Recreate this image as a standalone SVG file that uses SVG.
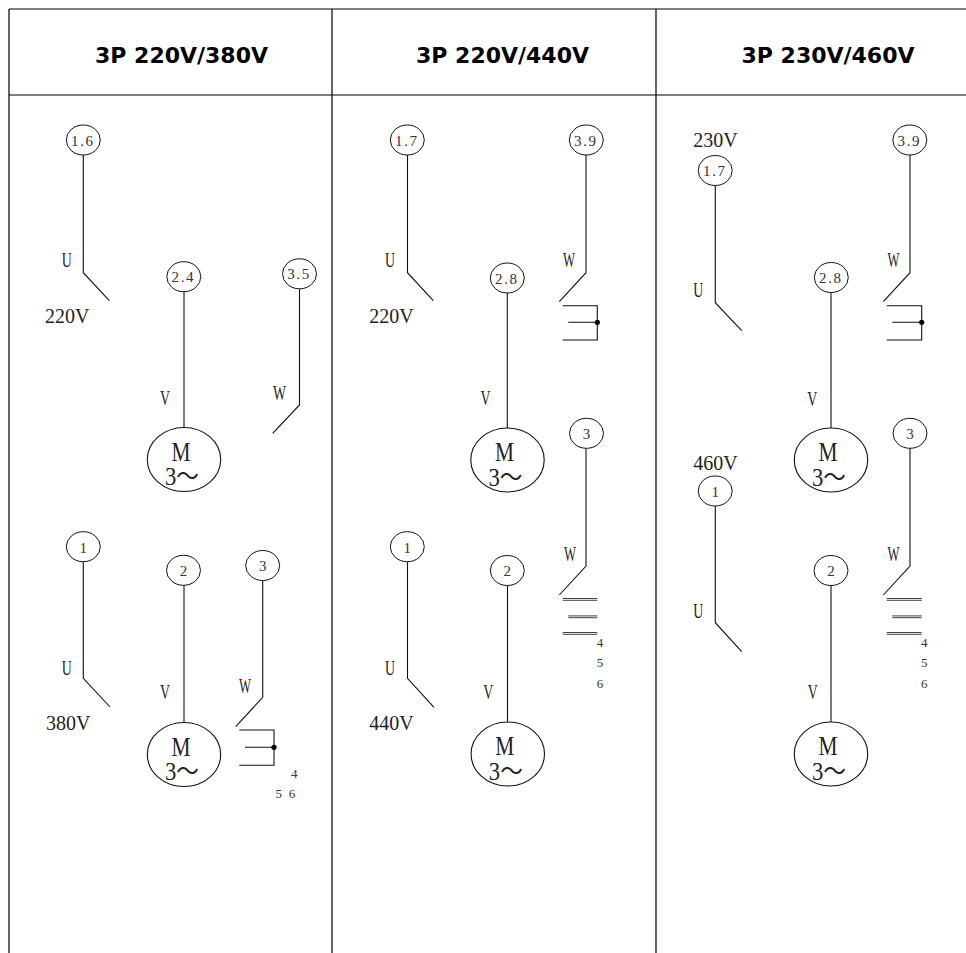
<svg xmlns="http://www.w3.org/2000/svg" width="966" height="953" viewBox="0 0 966 953">
<style>
.tbl{stroke:#000;stroke-width:1.2;fill:none}
.hdr{font-family:"DejaVu Sans",sans-serif;font-weight:bold;font-size:22px;fill:#000;text-anchor:middle}
.term{fill:#fff;stroke:#111;stroke-width:1}
.tl{font-family:"Liberation Serif",serif;font-size:15px;fill:#333;text-anchor:middle}
.w{stroke:#111;stroke-width:1.1;fill:none}
.lbl{font-family:"Liberation Serif",serif;font-size:21px;fill:#222}
.volt{font-family:"Liberation Serif",serif;font-size:20px;fill:#222}
.num{font-family:"Liberation Serif",serif;font-size:13px;fill:#333;text-anchor:middle}
.mot{fill:#fff;stroke:#111;stroke-width:1.1}
.mM{font-family:"Liberation Serif",serif;font-size:28px;fill:#222;text-anchor:middle}
.m3{font-family:"Liberation Serif","Noto Sans CJK SC",serif;font-size:25px;fill:#222}
.dbl{stroke:#444;stroke-width:1;fill:none}
</style>
<rect width="966" height="953" fill="#fff"/>
<g id="table">
<path class="tbl" d="M9,9H966M9,95H966M9,9V953M332,9V953M656,9V953"/>
<text class="hdr" x="181.5" y="63">3P 220V/380V</text>
<text class="hdr" x="502.5" y="63">3P 220V/440V</text>
<text class="hdr" x="828" y="63">3P 230V/460V</text>
</g>
<g id="connectors">
<path class="w" d="M83.3,155V272.7L109.3,300.7"/>
<path class="w" d="M184,291.7V427.5"/>
<path class="w" d="M299.5,288.8V405L272.7,433.3"/>
<path class="w" d="M83.3,561.7V678.3L110,707"/>
<path class="w" d="M184,585.3V722.5"/>
<path class="w" d="M262.7,580.5V697.3L235.7,726.7"/>
<path class="w" d="M239.3,730H274V765.3H239.3M245,747.3H274"/>
<circle cx="274" cy="747.3" r="2.6" fill="#000"/>
<path class="w" d="M407.5,155V272.7L433.3,300.7"/>
<path class="w" d="M507.3,293V428.3"/>
<path class="w" d="M586,155V272.7L559.3,301.7"/>
<path class="w" d="M562.7,305.7H597.3V340H562.7M568.3,322.3H597.3"/>
<circle cx="597.3" cy="322.3" r="2.6" fill="#000"/>
<path class="w" d="M586,448.3V566L559.3,595"/>
<path class="dbl" d="M562.7,598.5H597.3M562.7,600.3H597.3M568.3,615.9H597.3M568.3,617.7H597.3M562.7,632.5H597.3M562.7,634.3H597.3"/>
<path class="w" d="M407.5,561.7V678.3L434,707.3"/>
<path class="w" d="M507.5,585.5V721.8"/>
<path class="w" d="M715.3,185.5V302.7L741.7,330.7"/>
<path class="w" d="M831,292.5V428.3"/>
<path class="w" d="M910,155V272.7L883.3,301.7"/>
<path class="w" d="M886.7,305.7H921.7V340H886.7M892.3,322.3H921.7"/>
<circle cx="921.7" cy="322.3" r="2.6" fill="#000"/>
<path class="w" d="M910,448.3V566L883.3,595"/>
<path class="dbl" d="M886.7,598.5H921.7M886.7,600.3H921.7M892.3,615.9H921.7M892.3,617.7H921.7M886.7,632.5H921.7M886.7,634.3H921.7"/>
<path class="w" d="M715.3,506V622.7L741.7,651.7"/>
<path class="w" d="M831,585.5V721.8"/>
</g>
<g id="labels">
<text class="lbl" x="61.7" y="266.7" textLength="10" lengthAdjust="spacingAndGlyphs">U</text>
<text class="volt" x="45" y="323.3">220V</text>
<text class="lbl" x="160" y="405" textLength="10" lengthAdjust="spacingAndGlyphs">V</text>
<text class="lbl" x="273" y="400" textLength="13" lengthAdjust="spacingAndGlyphs">W</text>
<text class="lbl" x="61.7" y="675" textLength="10" lengthAdjust="spacingAndGlyphs">U</text>
<text class="volt" x="46" y="730">380V</text>
<text class="lbl" x="160" y="699" textLength="10" lengthAdjust="spacingAndGlyphs">V</text>
<text class="lbl" x="239" y="692.7" textLength="12" lengthAdjust="spacingAndGlyphs">W</text>
<text class="num" x="294.3" y="778">4</text>
<text class="num" x="278.7" y="798">5</text>
<text class="num" x="292" y="798">6</text>
<text class="lbl" x="385" y="267.3" textLength="10" lengthAdjust="spacingAndGlyphs">U</text>
<text class="volt" x="369.3" y="323.3">220V</text>
<text class="lbl" x="480.5" y="405" textLength="10" lengthAdjust="spacingAndGlyphs">V</text>
<text class="lbl" x="563" y="267.3" textLength="12" lengthAdjust="spacingAndGlyphs">W</text>
<text class="lbl" x="564" y="560.7" textLength="12" lengthAdjust="spacingAndGlyphs">W</text>
<text class="num" x="600" y="646.7">4</text>
<text class="num" x="600" y="667.3">5</text>
<text class="num" x="600" y="688">6</text>
<text class="lbl" x="385" y="675" textLength="10" lengthAdjust="spacingAndGlyphs">U</text>
<text class="volt" x="369.3" y="730">440V</text>
<text class="lbl" x="483.3" y="699.3" textLength="10" lengthAdjust="spacingAndGlyphs">V</text>
<text class="volt" x="693.3" y="146.7">230V</text>
<text class="lbl" x="693.3" y="297.3" textLength="10" lengthAdjust="spacingAndGlyphs">U</text>
<text class="lbl" x="807.3" y="406" textLength="10" lengthAdjust="spacingAndGlyphs">V</text>
<text class="lbl" x="887.5" y="267.3" textLength="12" lengthAdjust="spacingAndGlyphs">W</text>
<text class="lbl" x="887.5" y="560.7" textLength="12" lengthAdjust="spacingAndGlyphs">W</text>
<text class="num" x="924.3" y="646.7">4</text>
<text class="num" x="924.3" y="667.3">5</text>
<text class="num" x="924.3" y="688">6</text>
<text class="volt" x="693.3" y="470">460V</text>
<text class="lbl" x="693.3" y="618.3" textLength="10" lengthAdjust="spacingAndGlyphs">U</text>
<text class="lbl" x="807.7" y="699.3" textLength="10" lengthAdjust="spacingAndGlyphs">V</text>
</g>
<g id="t1-16"><ellipse class="term" cx="83.3" cy="140" rx="17" ry="15"/><text class="tl" x="82" y="145.5" textLength="22" lengthAdjust="spacing">1.6</text></g>
<g id="t1-24"><ellipse class="term" cx="183.8" cy="276.7" rx="17" ry="15"/><text class="tl" x="182.5" y="282.2" textLength="22" lengthAdjust="spacing">2.4</text></g>
<g id="t1-35"><ellipse class="term" cx="299.5" cy="273.8" rx="17" ry="15"/><text class="tl" x="298.2" y="279.3" textLength="22" lengthAdjust="spacing">3.5</text></g>
<g id="t1-1"><ellipse class="term" cx="83.3" cy="546.7" rx="17" ry="15"/><text class="tl" x="83.3" y="552.5">1</text></g>
<g id="t1-2"><ellipse class="term" cx="183.5" cy="570.3" rx="17" ry="15"/><text class="tl" x="183.5" y="576">2</text></g>
<g id="t1-3"><ellipse class="term" cx="262.7" cy="565.5" rx="17" ry="15"/><text class="tl" x="262.7" y="571.2">3</text></g>
<g id="t2-17"><ellipse class="term" cx="407.3" cy="140" rx="17" ry="15"/><text class="tl" x="406" y="145.5" textLength="22" lengthAdjust="spacing">1.7</text></g>
<g id="t2-28"><ellipse class="term" cx="507.3" cy="278" rx="17" ry="15"/><text class="tl" x="506" y="283.5" textLength="22" lengthAdjust="spacing">2.8</text></g>
<g id="t2-39"><ellipse class="term" cx="586.3" cy="140" rx="17" ry="15"/><text class="tl" x="585" y="145.5" textLength="22" lengthAdjust="spacing">3.9</text></g>
<g id="t2-3"><ellipse class="term" cx="586.5" cy="433.3" rx="17" ry="15"/><text class="tl" x="586.5" y="439">3</text></g>
<g id="t2-1"><ellipse class="term" cx="407.3" cy="546.7" rx="17" ry="15"/><text class="tl" x="407.3" y="552.5">1</text></g>
<g id="t2-2"><ellipse class="term" cx="507.3" cy="570.5" rx="17" ry="15"/><text class="tl" x="507.3" y="576.2">2</text></g>
<g id="t3-17"><ellipse class="term" cx="715.2" cy="170.5" rx="17" ry="15"/><text class="tl" x="714" y="176" textLength="22" lengthAdjust="spacing">1.7</text></g>
<g id="t3-28"><ellipse class="term" cx="831.3" cy="277.5" rx="17" ry="15"/><text class="tl" x="830" y="283" textLength="22" lengthAdjust="spacing">2.8</text></g>
<g id="t3-39"><ellipse class="term" cx="909.8" cy="140" rx="17" ry="15"/><text class="tl" x="908.5" y="145.5" textLength="22" lengthAdjust="spacing">3.9</text></g>
<g id="t3-3"><ellipse class="term" cx="910" cy="433.3" rx="17" ry="15"/><text class="tl" x="910" y="439">3</text></g>
<g id="t3-1"><ellipse class="term" cx="715.2" cy="491" rx="17" ry="15"/><text class="tl" x="715.2" y="496.7">1</text></g>
<g id="t3-2"><ellipse class="term" cx="831" cy="570.5" rx="17" ry="15"/><text class="tl" x="831" y="576.2">2</text></g>
<g id="motor1a"><ellipse class="mot" cx="184" cy="459.5" rx="36.7" ry="32"/><text class="mM" x="181" y="460.5" textLength="19" lengthAdjust="spacingAndGlyphs">M</text><text class="m3" x="165" y="485" textLength="34" lengthAdjust="spacingAndGlyphs">3～</text></g>
<g id="motor1b"><ellipse class="mot" cx="184" cy="754.5" rx="36.7" ry="32"/><text class="mM" x="181" y="755.5" textLength="19" lengthAdjust="spacingAndGlyphs">M</text><text class="m3" x="165" y="780" textLength="34" lengthAdjust="spacingAndGlyphs">3～</text></g>
<g id="motor2a"><ellipse class="mot" cx="507.5" cy="460" rx="36.7" ry="32"/><text class="mM" x="504.5" y="461" textLength="19" lengthAdjust="spacingAndGlyphs">M</text><text class="m3" x="488.5" y="485.5" textLength="34" lengthAdjust="spacingAndGlyphs">3～</text></g>
<g id="motor2b"><ellipse class="mot" cx="507.8" cy="754" rx="36.7" ry="32"/><text class="mM" x="504.8" y="755" textLength="19" lengthAdjust="spacingAndGlyphs">M</text><text class="m3" x="488.8" y="779.5" textLength="34" lengthAdjust="spacingAndGlyphs">3～</text></g>
<g id="motor3a"><ellipse class="mot" cx="831" cy="460" rx="36.7" ry="32"/><text class="mM" x="828" y="461" textLength="19" lengthAdjust="spacingAndGlyphs">M</text><text class="m3" x="812" y="485.5" textLength="34" lengthAdjust="spacingAndGlyphs">3～</text></g>
<g id="motor3b"><ellipse class="mot" cx="831" cy="754" rx="36.7" ry="32"/><text class="mM" x="828" y="755" textLength="19" lengthAdjust="spacingAndGlyphs">M</text><text class="m3" x="812" y="779.5" textLength="34" lengthAdjust="spacingAndGlyphs">3～</text></g>
</svg>
